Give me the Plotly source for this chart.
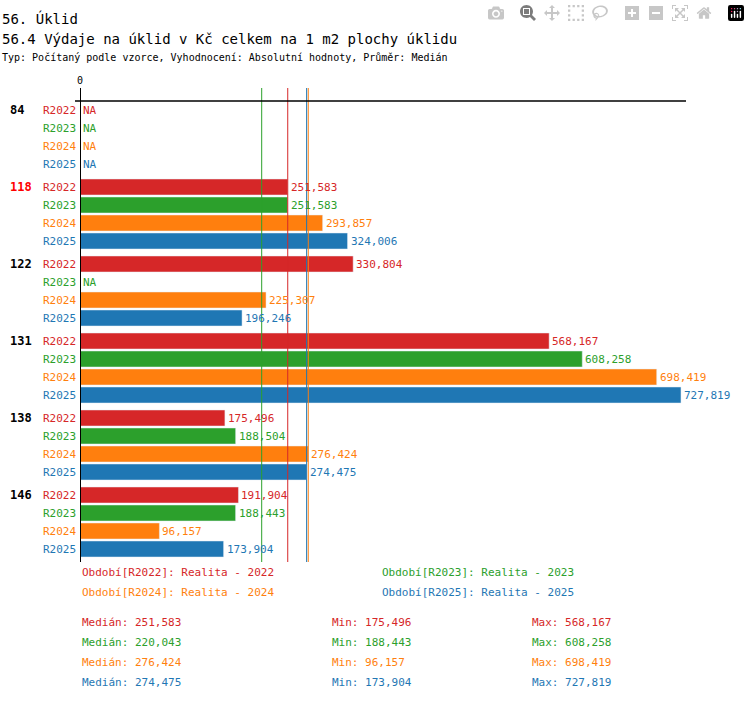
import plotly.graph_objects as go

groups = ["84", "118", "122", "131", "138", "146"]
series = ["R2022", "R2023", "R2024", "R2025"]
vals = {
    "R2022": [None, 251.583, 330.804, 568.167, 175.496, 191.904],
    "R2023": [None, 251.583, None, 608.258, 188.504, 188.443],
    "R2024": [None, 293.857, 225.307, 698.419, 276.424, 96.157],
    "R2025": [None, 324.006, 196.246, 727.819, 274.475, 173.904],
}
medians = {"R2022": 251.583, "R2023": 220.043, "R2024": 276.424, "R2025": 274.475}
mins = {"R2022": 175.496, "R2023": 188.443, "R2024": 96.157, "R2025": 173.904}
maxs = {"R2022": 568.167, "R2023": 608.258, "R2024": 698.419, "R2025": 727.819}
legend_txt = {"R2022": "Realita - 2022", "R2023": "Realita - 2023",
              "R2024": "Realita - 2024", "R2025": "Realita - 2025"}
colors = {"R2022": "#d62728", "R2023": "#2ca02c", "R2024": "#ff7f0e", "R2025": "#1f77b4"}
highlight = "118"

FONT = "DejaVu Sans Mono"
L, T, PW, PH = 80, 88, 670, 474
XMAX = 811.4

def fmt(v):
    return f"{v:.3f}".replace(".", ",")

def px_x(p):
    return (p - L) / PW

def px_y(p):
    return (T + PH - p) / PH

fig = go.Figure()
ann = []
for gi, g in enumerate(groups):
    for si, s in enumerate(series):
        y = gi * 77 + si * 18 + 9
        v = vals[s][gi]
        c = colors[s]
        fig.add_trace(go.Bar(x=[v if v is not None else 0], y=[y], orientation="h",
                             marker_color=c, width=16, showlegend=False, hoverinfo="skip"))
        ann.append(dict(x=-0.003, y=y, xref="paper", yref="y", text=s, showarrow=False,
                        xanchor="right", font=dict(color=c, size=11)))
        ann.append(dict(x=v if v is not None else 0, y=y, xref="x", yref="y",
                        text=fmt(v) if v is not None else "NA", showarrow=False,
                        xanchor="left", xshift=1, font=dict(color=c, size=11)))
    ann.append(dict(x=px_x(8), y=gi * 77 + 9, xref="paper", yref="y", text=f"<b>{g}</b>",
                    showarrow=False, xanchor="left",
                    font=dict(color="red" if g == highlight else "black", size=12)))

shapes = []
for s in series:
    shapes.append(dict(type="line", xref="x", yref="paper", x0=medians[s], x1=medians[s],
                       y0=0, y1=1, line=dict(color=colors[s], width=1)))
shapes.append(dict(type="line", xref="paper", yref="y", x0=px_x(75), x1=px_x(686),
                   y0=0, y1=0, line=dict(color="black", width=1.5)))
shapes.append(dict(type="line", xref="x", yref="paper", x0=0, x1=0, y0=0, y1=1,
                   line=dict(color="black", width=2)))
ann.append(dict(x=0, y=1, xref="x", yref="paper", text="0", showarrow=False,
                yanchor="bottom", font=dict(size=10)))

for i, s in enumerate(series):
    col = i % 2
    row = i // 2
    ann.append(dict(x=px_x(80 + col * 300), y=px_y(581 + row * 20), xref="paper", yref="paper",
                    text=f"Období[{s}]: {legend_txt[s]}", showarrow=False, xanchor="left",
                    font=dict(color=colors[s], size=11)))
    yy = px_y(631 + i * 20)
    for xp, lab, d in [(80, "Medián", medians), (330, "Min", mins), (530, "Max", maxs)]:
        ann.append(dict(x=px_x(xp), y=yy, xref="paper", yref="paper",
                        text=f"{lab}: {fmt(d[s])}", showarrow=False, xanchor="left",
                        font=dict(color=colors[s], size=11)))

titles = [("56. Úklid", 8, 14), ("56.4 Výdaje na úklid v Kč celkem na 1 m2 plochy úklidu", 29, 14),
          ("Typ: Počítaný podle vzorce, Vyhodnocení: Absolutní hodnoty, Průměr: Medián", 50, 10)]
for t, yp, sz in titles:
    ann.append(dict(x=px_x(0), y=px_y(yp), xref="paper", yref="paper", text=t, showarrow=False,
                    xanchor="left", font=dict(size=sz, color="black")))

fig.update_layout(
    width=750, height=710, margin=dict(l=L, r=750 - L - PW, t=T, b=710 - T - PH),
    plot_bgcolor="white", paper_bgcolor="white", barmode="overlay",
    font=dict(family=FONT, color="black"),
    xaxis=dict(range=[0, XMAX], visible=False),
    yaxis=dict(range=[461, -13], visible=False),
    annotations=ann, shapes=shapes,
)
fig.write_html("out.html", post_script="document.body.style.margin='0';document.body.style.overflow='hidden';")
